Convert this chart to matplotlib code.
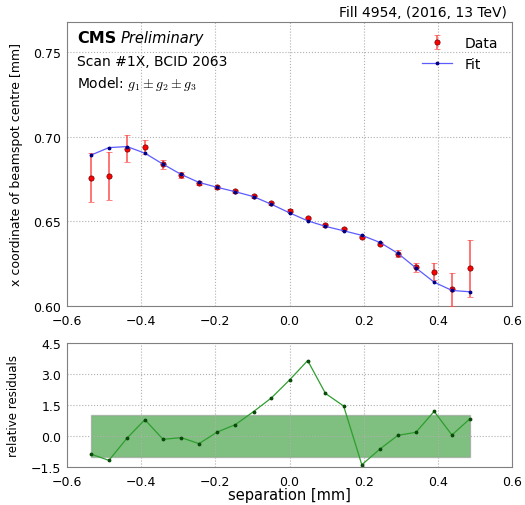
import matplotlib
matplotlib.use("Agg")
import matplotlib.pyplot as plt
import numpy as np

# separation scan points [mm]
sep = [-0.536, -0.487, -0.438, -0.390, -0.341, -0.292, -0.244, -0.195, -0.146,
       -0.097, -0.049, 0.000, 0.049, 0.097, 0.146, 0.195, 0.244, 0.292, 0.341,
       0.390, 0.438, 0.487]

data_y = [0.6759, 0.6769, 0.6931, 0.6939, 0.6839, 0.6775, 0.6727, 0.6702, 0.6678,
          0.6649, 0.6608, 0.6563, 0.6520, 0.6478, 0.6453, 0.6408, 0.6369, 0.6310,
          0.6229, 0.6204, 0.6098, 0.6222]
data_err = [0.0144, 0.0142, 0.0078, 0.0041, 0.0026, 0.0016, 0.0010, 0.0008, 0.0008,
            0.0008, 0.0008, 0.0008, 0.0008, 0.0008, 0.0008, 0.0008, 0.0010, 0.0020,
            0.0027, 0.0051, 0.0096, 0.0167]
fit_y = [0.6892, 0.6937, 0.6943, 0.6904, 0.6839, 0.6778, 0.6731, 0.6702, 0.6676,
         0.6647, 0.6602, 0.6551, 0.6504, 0.6471, 0.6445, 0.6418, 0.6376, 0.6312,
         0.6225, 0.6141, 0.6092, 0.6084]
resid = [-0.87, -1.18, -0.10, 0.79, -0.16, -0.08, -0.37, 0.19, 0.55, 1.18, 1.84,
         2.71, 3.65, 2.06, 1.45, -1.39, -0.63, 0.03, 0.18, 1.19, 0.05, 0.84]

plt.rcParams["mathtext.fontset"] = "cm"

fig = plt.figure(figsize=(5.25, 5.06), dpi=100)
ax1 = fig.add_axes([67/525, 199/506, 445/525, 284/506])
ax2 = fig.add_axes([67/525, 38/506, 445/525, 124/506])

for ax in (ax1, ax2):
    for s in ax.spines.values():
        s.set_color("#808080")
    ax.tick_params(direction="in", length=0, labelsize=9)
    ax.tick_params(axis="x", pad=6)
    ax.tick_params(axis="y", pad=4)
    ax.grid(True, linestyle=":", color="#b0b0b0", linewidth=0.8)
    ax.set_xlim(-0.6, 0.6)
    ax.set_xticks(np.arange(-0.6, 0.61, 0.2))

h_data = ax1.errorbar(sep, data_y, yerr=data_err, fmt="o", color="red", ms=3.8,
                      mec="#700000", mew=0.5, ecolor="#ff5050", elinewidth=1.1,
                      capsize=2, label="Data", zorder=3)
h_fit, = ax1.plot(sep, fit_y, "-", color="#5c5cff", lw=0.9, marker=".", ms=3.5,
                  mfc="navy", mec="navy", label="Fit", zorder=4)
ax1.set_ylim(0.60, 0.768)
ax1.set_yticks([0.60, 0.65, 0.70, 0.75])
ax1.set_ylabel("x coordinate of beamspot centre [mm]", fontsize=9)
ax1.yaxis.set_label_coords(-0.099, 0.5)
ax1.legend([h_data, h_fit], ["Data", "Fit"], loc="upper right", frameon=False,
           fontsize=10, numpoints=1, handlelength=2.2, handletextpad=0.9,
           labelspacing=0.5, bbox_to_anchor=(0.997, 0.995))

ax1.text(0.022, 0.944, "CMS", transform=ax1.transAxes, fontsize=11.5,
         fontweight="bold", va="center")
ax1.text(0.121, 0.944, "Preliminary", transform=ax1.transAxes, fontsize=10.5,
         style="italic", va="center")
ax1.text(0.022, 0.863, "Scan #1X, BCID 2063", transform=ax1.transAxes,
         fontsize=10, va="center")
ax1.text(0.022, 0.785, r"Model: $g_1 \pm g_2 \pm g_3$", transform=ax1.transAxes,
         fontsize=10, va="center")
fig.text(507/525, 1 - 13/506, "Fill 4954, (2016, 13 TeV)", ha="right",
         va="center", fontsize=10)

ax2.fill_between([sep[0], sep[-1]], -1, 1, color="green", alpha=0.5,
                 linewidth=1, edgecolor="#909090")
ax2.plot(sep, resid, "-", color="#2e9e2e", lw=0.9, marker=".", ms=3.5,
         mfc="#0a4a0a", mec="#0a4a0a")
ax2.set_ylim(-1.5, 4.5)
ax2.set_yticks([-1.5, 0.0, 1.5, 3.0, 4.5])
ax2.set_ylabel("relative residuals", fontsize=8.5)
ax2.yaxis.set_label_coords(-0.106, 0.5)
ax2.set_xlabel("separation [mm]", fontsize=10.5)
ax2.xaxis.set_label_coords(0.5, -0.165)

fig.savefig("out.png", dpi=100)
